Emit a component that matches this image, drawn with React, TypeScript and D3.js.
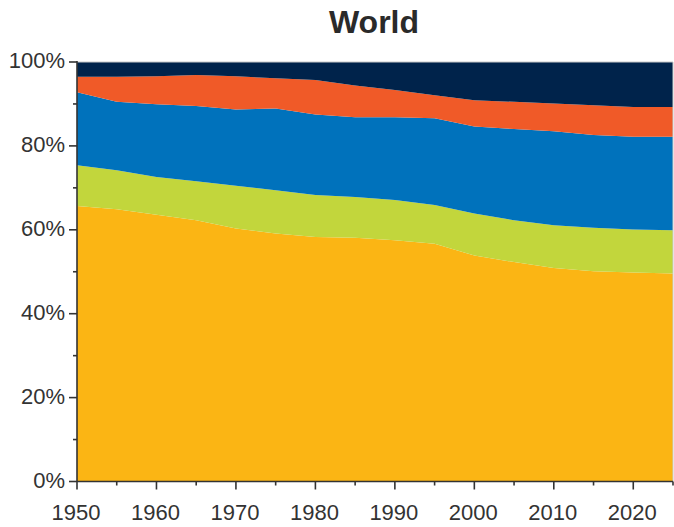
import React from 'react'
import * as d3 from 'd3'

// shares (%) per region at 5-year steps
const years = [1950, 1955, 1960, 1965, 1970, 1975, 1980, 1985, 1990, 1995, 2000, 2005, 2010, 2015, 2020, 2025]
const yellowShare = [65.7, 64.9, 63.6, 62.3, 60.3, 59.1, 58.3, 58.1, 57.5, 56.7, 53.9, 52.3, 50.9, 50.1, 49.8, 49.6]
const greenShare = [9.7, 9.3, 9.0, 9.3, 10.2, 10.3, 10.0, 9.7, 9.6, 9.2, 10.0, 10.0, 10.2, 10.4, 10.3, 10.3]
const blueShare = [17.4, 16.3, 17.3, 17.9, 18.2, 19.5, 19.2, 19.0, 19.7, 20.7, 20.7, 21.7, 22.4, 22.1, 22.1, 22.3]
const orangeShare = [3.7, 6.0, 6.7, 7.4, 7.9, 7.2, 8.2, 7.6, 6.5, 5.5, 6.3, 6.5, 6.6, 7.1, 7.1, 7.1]
const navyShare = [3.5, 3.5, 3.4, 3.1, 3.4, 3.9, 4.3, 5.6, 6.7, 7.9, 9.1, 9.5, 9.9, 10.3, 10.7, 10.7]

const seriesKeys = ['yellow', 'green', 'blue', 'orange', 'navy']
const seriesColors = ['#FBB514', '#C2D63C', '#0072BC', '#F05A28', '#00234B']

const xTicks = [1950, 1960, 1970, 1980, 1990, 2000, 2010, 2020]
const xMinorTicks = [1955, 1965, 1975, 1985, 1995, 2005, 2015]
const yTicks = [0, 20, 40, 60, 80, 100]
const yMinorTicks = [10, 30, 50, 70, 90]

const W = 674
const H = 527
const left = 77
const right = 673
const top = 62
const bottom = 481.5

export default function App() {
  const rows = years.map((yr, i) => ({
    year: yr,
    yellow: yellowShare[i],
    green: greenShare[i],
    blue: blueShare[i],
    orange: orangeShare[i],
    navy: navyShare[i],
  }))

  const x = d3.scaleLinear().domain([1950, 2025]).range([left, right])
  const y = d3.scaleLinear().domain([0, 100]).range([bottom, top])

  const stacked = d3.stack<any>().keys(seriesKeys)(rows)
  const area = d3
    .area<any>()
    .x(d => x(d.data.year))
    .y0(d => y(d[0]))
    .y1(d => y(Math.min(100, d[1])))
    .curve(d3.curveLinear)

  const txt = '#333'
  const font = '"Liberation Sans", Arial, sans-serif'

  return (
    <svg width={W} height={H} style={{ position: 'absolute', left: 0, top: 0 }}>
      <rect width={W} height={H} fill="#fff" />
      <text x={374} y={33} textAnchor="middle" fontFamily={font} fontWeight="bold" fontSize={32} fill="#2a2a2a">
        World
      </text>

      {stacked.map((s, i) => (
        <path key={s.key} d={area(s) || ''} fill={seriesColors[i]} />
      ))}

      {/* light frame */}
      <path d={`M${left},${top}H${right}V${bottom}`} fill="none" stroke="#c8c8c8" strokeWidth={1} />

      {/* y axis */}
      <line x1={left} x2={left} y1={top - 1} y2={bottom} stroke={txt} strokeWidth={1.6} />
      {yTicks.map(t => (
        <g key={t}>
          <line x1={left - 8} x2={left} y1={y(t)} y2={y(t)} stroke={txt} strokeWidth={1.6} />
          <text x={65} y={y(t) + 6} textAnchor="end" fontFamily={font} fontSize={22} fill={txt}>
            {t}%
          </text>
        </g>
      ))}
      {yMinorTicks.map(t => (
        <line key={t} x1={left - 4} x2={left} y1={y(t)} y2={y(t)} stroke={txt} strokeWidth={1.6} />
      ))}

      {/* x axis */}
      <line x1={left} x2={right} y1={bottom} y2={bottom} stroke={txt} strokeWidth={1.6} />
      {xTicks.map(t => (
        <g key={t}>
          <line x1={x(t)} x2={x(t)} y1={bottom} y2={bottom + 8} stroke={txt} strokeWidth={1.6} />
          <text x={x(t) - 1} y={520} textAnchor="middle" fontFamily={font} fontSize={22} fill={txt}>
            {t}
          </text>
        </g>
      ))}
      {xMinorTicks.map(t => (
        <line key={t} x1={x(t)} x2={x(t)} y1={bottom} y2={bottom + 4} stroke={txt} strokeWidth={1.6} />
      ))}
      <line x1={right} x2={right} y1={bottom} y2={bottom + 4} stroke={txt} strokeWidth={1.6} />
    </svg>
  )
}
